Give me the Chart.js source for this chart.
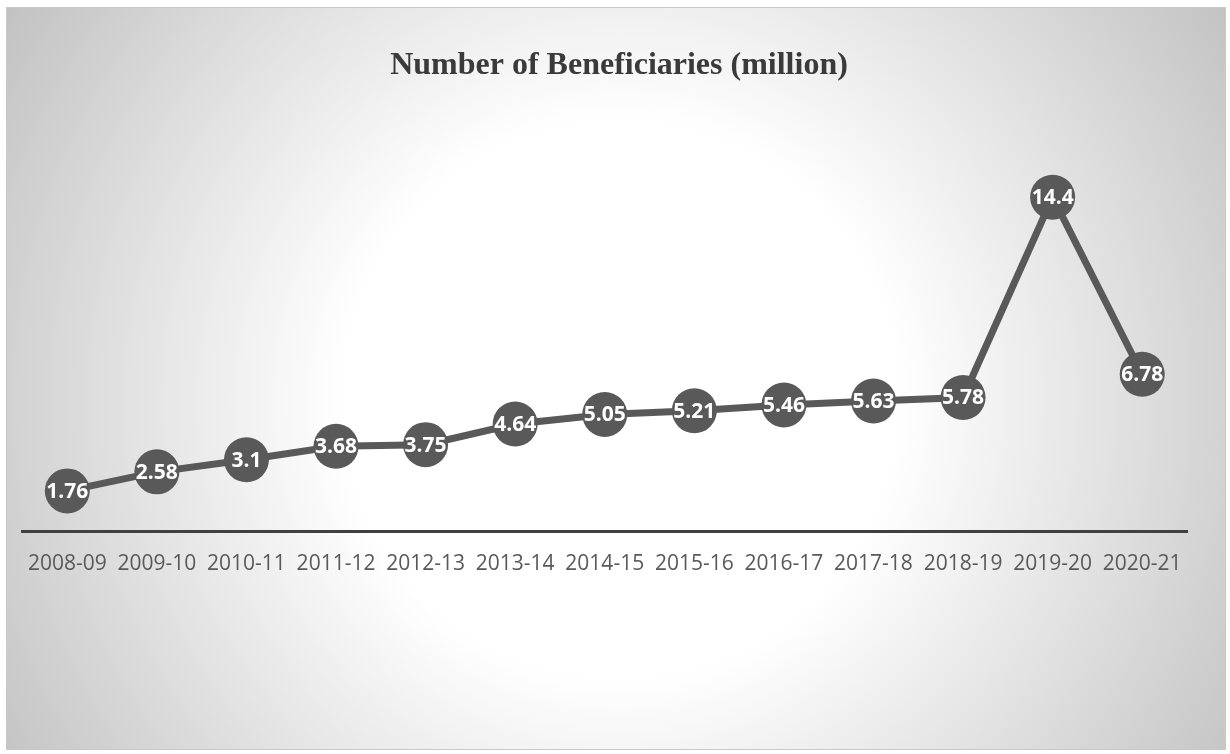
<!DOCTYPE html>
<html lang="en">
<head>
<meta charset="UTF-8">
<title>Number of Beneficiaries</title>
<script src="https://cdn.jsdelivr.net/npm/chart.js"></script>
<style>
    html, body { margin: 0; padding: 0; background: #ffffff; }
    #wrap { width: 1230px; height: 754px; }
</style>
</head>
<body>
<div id="wrap"><canvas id="benChart" width="1230" height="754"></canvas></div>
<script>
// data
var years = ['2008-09', '2009-10', '2010-11', '2011-12', '2012-13', '2013-14', '2014-15',
             '2015-16', '2016-17', '2017-18', '2018-19', '2019-20', '2020-21'];
var beneficiaries = [1.76, 2.58, 3.1, 3.68, 3.75, 4.64, 5.05, 5.21, 5.46, 5.63, 5.78, 14.4, 6.78];
var chartTitle = 'Number of Beneficiaries (million)';

var markColor = '#595959';

// gray radial background, thin frame and the title (centred on the whole frame)
var backdrop = {
    id: 'backdrop',
    beforeDraw: function (chart) {
        var ctx = chart.ctx;
        var x0 = 6, y0 = 7, x1 = 1226, y1 = 750;
        ctx.save();
        var g = ctx.createRadialGradient(620, 400, 0, 620, 400, 730);
        g.addColorStop(0, '#ffffff');
        g.addColorStop(0.38, '#ffffff');
        g.addColorStop(1, '#c2c2c2');
        ctx.fillStyle = g;
        ctx.fillRect(x0, y0, x1 - x0, y1 - y0);
        ctx.strokeStyle = '#c8c8c8';
        ctx.lineWidth = 1;
        ctx.strokeRect(x0 + 0.5, y0 + 0.5, x1 - x0 - 1, y1 - y0 - 1);

        ctx.font = 'bold 32px "Liberation Serif"';
        ctx.fillStyle = '#3a3a3a';
        ctx.textAlign = 'center';
        ctx.textBaseline = 'middle';
        ctx.fillText(chartTitle, 619, 66);
        ctx.restore();
    }
};

// white value labels inside each marker
var valueLabels = {
    id: 'valueLabels',
    afterDatasetsDraw: function (chart) {
        var ctx = chart.ctx;
        var meta = chart.getDatasetMeta(0);
        ctx.save();
        ctx.font = 'bold 21px "Open Sans"';
        ctx.fillStyle = '#ffffff';
        ctx.textAlign = 'center';
        ctx.textBaseline = 'middle';
        meta.data.forEach(function (pt, i) {
            ctx.fillText(String(chart.data.datasets[0].data[i]), pt.x, pt.y + 1);
        });
        ctx.restore();
    }
};

var ctx = document.getElementById('benChart').getContext('2d');
var benChart = new Chart(ctx, {
    type: 'line',
    data: {
        labels: years,
        datasets: [{
            data: beneficiaries,
            borderColor: markColor,
            borderWidth: 7,
            backgroundColor: markColor,
            pointBackgroundColor: markColor,
            pointBorderWidth: 0,
            pointRadius: 22.5,
            pointHoverRadius: 22.5,
            tension: 0,
            clip: false
        }]
    },
    options: {
        responsive: false,
        animation: false,
        events: [],
        layout: {
            padding: { left: 22, right: 43, top: 160, bottom: 165 }
        },
        plugins: {
            legend: { display: false },
            tooltip: { enabled: false },
            title: { display: false }
        },
        scales: {
            x: {
                offset: true,
                grid: { display: false },
                border: { display: true, color: '#404040', width: 3 },
                ticks: {
                    color: '#595959',
                    padding: 12,
                    maxRotation: 0,
                    autoSkip: false,
                    font: { family: '"Open Sans"', size: 21 }
                }
            },
            y: {
                display: false,
                min: 0,
                max: 16
            }
        }
    },
    plugins: [backdrop, valueLabels]
});
</script>
</body>
</html>
